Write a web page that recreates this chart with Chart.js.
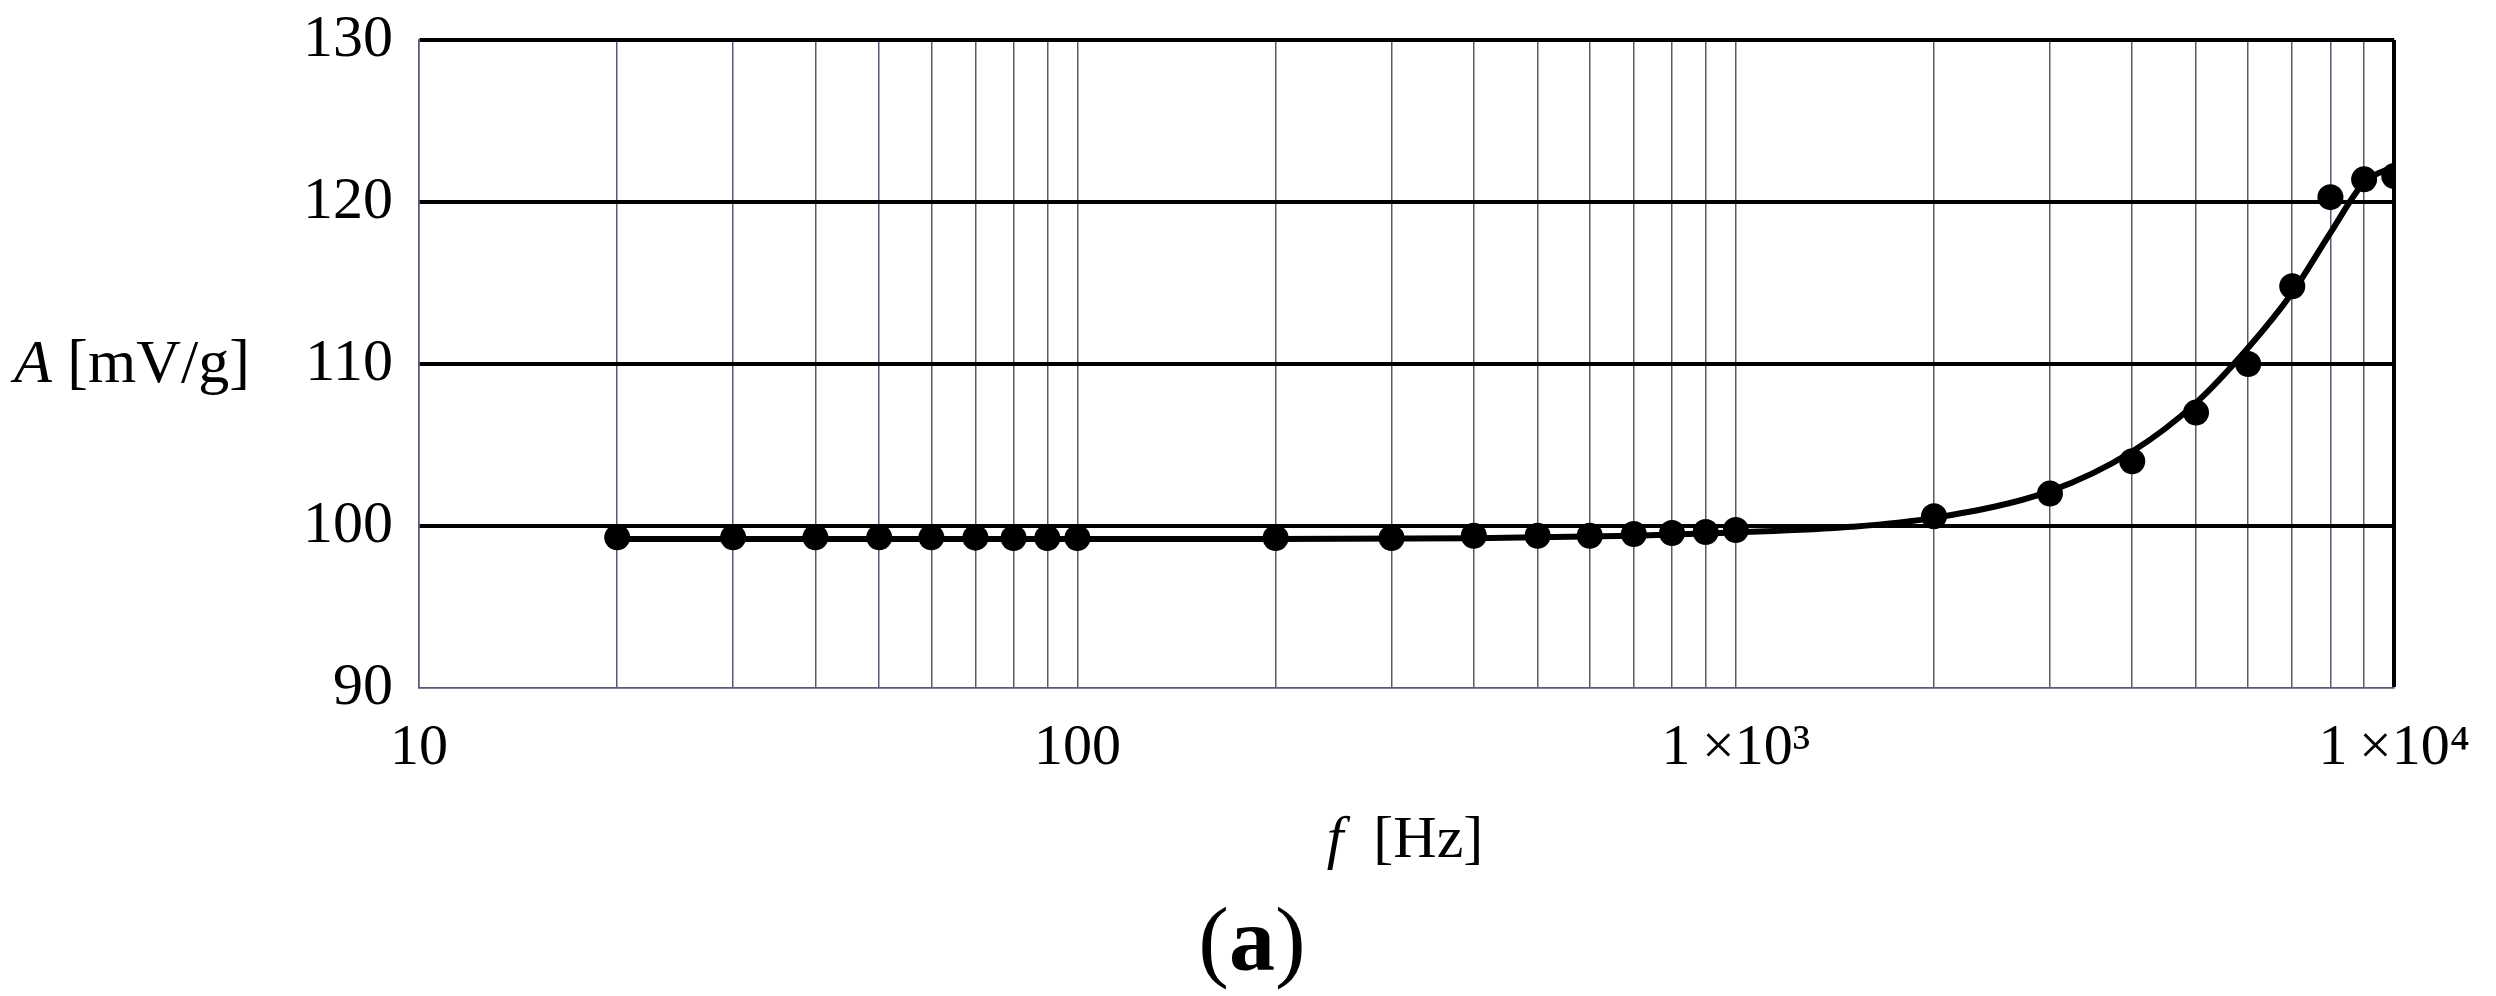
<!DOCTYPE html>
<html>
<head>
<meta charset="utf-8">
<script src="https://cdn.jsdelivr.net/npm/chart.js@4.4.0/dist/chart.umd.min.js"></script>
<style>
  html, body { margin: 0; padding: 0; background: #fff; }
  #wrap { width: 2496px; height: 996px; position: relative; }
</style>
</head>
<body>
<div id="wrap"><canvas id="chart"></canvas></div>
<script>
// measured points (f in Hz, A in mV/g)
const freqs = [20, 30, 40, 50, 60, 70, 80, 90, 100, 200, 300, 400, 500, 600, 700, 800, 900, 1000,
  2000, 3000, 4000, 5000, 6000, 7000, 8000, 9000, 10000];
const ampl = [99.3, 99.3, 99.3, 99.3, 99.3, 99.28, 99.26, 99.26, 99.26, 99.26, 99.26, 99.4, 99.4, 99.4, 99.5, 99.57, 99.63, 99.75,
  100.6, 102.0, 104.0, 107.0, 110.0, 114.8, 120.3, 121.4, 121.6];

// fitted curve
const fitFreqs = [20, 100, 200, 400, 700, 1000, 1500, 2000, 3000, 4000, 5000, 6000, 7000, 8000, 9000, 10000];
const fitAmpl = [99.2, 99.2, 99.2, 99.25, 99.4, 99.6, 99.95, 100.5, 102.15, 104.6, 107.6, 111.0, 114.4, 118.1, 121.2, 122.2];

const xTicks = [10, 20, 30, 40, 50, 60, 70, 80, 90, 100, 200, 300, 400, 500, 600, 700, 800, 900,
  1000, 2000, 3000, 4000, 5000, 6000, 7000, 8000, 9000, 10000];
const xLabels = { 10: '10', 100: '100', 1000: '1\u2009×10³', 10000: '1\u2009×10⁴' };
const yTicks = [90, 100, 110, 120, 130];

const FONT = '"Liberation Serif", "DejaVu Serif", serif';
const thinGrid = '#5e5672';

// axis titles and panel label
const titles = {
  id: 'titles',
  afterDraw(chart) {
    const c = chart.ctx;
    c.save();
    c.fillStyle = '#000';
    c.textBaseline = 'alphabetic';
    c.textAlign = 'left';
    // y title
    c.font = 'italic 62px ' + FONT;
    c.fillText('A', 14, 382);
    let w = c.measureText('A ').width;
    c.font = '62px ' + FONT;
    c.fillText('[mV/g]', 14 + w, 382);
    // x title
    c.font = 'italic 60px ' + FONT;
    const fw = c.measureText('f  ').width;
    c.font = '60px ' + FONT;
    const hw = c.measureText('[Hz]').width;
    let x0 = 1405 - (fw + hw) / 2;
    c.font = 'italic 60px ' + FONT;
    c.fillText('f', x0, 857);
    c.font = '60px ' + FONT;
    c.fillText('[Hz]', x0 + fw, 857);
    // (a)
    c.font = '92px ' + FONT;
    const pw = c.measureText('(').width;
    c.font = 'bold 92px ' + FONT;
    const aw = c.measureText('a').width;
    x0 = 1252 - (2 * pw + aw) / 2;
    c.font = '92px ' + FONT;
    c.fillText('(', x0, 970);
    c.font = 'bold 92px ' + FONT;
    c.fillText('a', x0 + pw, 970);
    c.font = '92px ' + FONT;
    c.fillText(')', x0 + pw + aw, 970);
    c.restore();
  }
};

new Chart(document.getElementById('chart'), {
  type: 'scatter',
  data: {
    datasets: [
      {
        label: 'measured',
        data: freqs.map((f, i) => ({ x: f, y: ampl[i] })),
        pointRadius: 13,
        pointBackgroundColor: '#000',
        pointBorderWidth: 0,
        showLine: false
      },
      {
        label: 'fit',
        data: fitFreqs.map((f, i) => ({ x: f, y: fitAmpl[i] })),
        showLine: true,
        borderColor: '#000',
        borderWidth: 6,
        pointRadius: 0,
        cubicInterpolationMode: 'monotone'
      }
    ]
  },
  options: {
    responsive: true,
    maintainAspectRatio: false,
    animation: false,
    layout: { padding: { top: 40, right: 97, left: 0, bottom: 0 } },
    plugins: { legend: { display: false }, tooltip: { enabled: false } },
    scales: {
      x: {
        type: 'logarithmic',
        min: 10,
        max: 10000,
        afterBuildTicks: s => { s.ticks = xTicks.map(v => ({ value: v })); },
        afterFit: s => { s.height = 308; },
        ticks: {
          autoSkip: false,
          maxRotation: 0,
          padding: 26,
          color: '#000',
          font: { family: FONT, size: 58 },
          callback: v => xLabels[v] || ''
        },
        grid: {
          drawTicks: false,
          color: ctx => ctx.tick && ctx.tick.value === 10000 ? '#000' : thinGrid,
          lineWidth: ctx => ctx.tick && ctx.tick.value === 10000 ? 4 : 1.5
        },
        border: { color: thinGrid, width: 1.5 }
      },
      y: {
        min: 90,
        max: 130,
        afterBuildTicks: s => { s.ticks = yTicks.map(v => ({ value: v })); },
        afterFit: s => { s.width = 419; s.paddingTop = 0; s.paddingBottom = 0; },
        ticks: {
          padding: 26,
          color: '#000',
          font: { family: FONT, size: 60 }
        },
        grid: {
          drawTicks: false,
          color: ctx => ctx.tick && ctx.tick.value === 90 ? thinGrid : '#000',
          lineWidth: ctx => ctx.tick && ctx.tick.value === 90 ? 1.5 : 4
        },
        border: { color: thinGrid, width: 1.5 }
      }
    }
  },
  plugins: [titles]
});
</script>
</body>
</html>
